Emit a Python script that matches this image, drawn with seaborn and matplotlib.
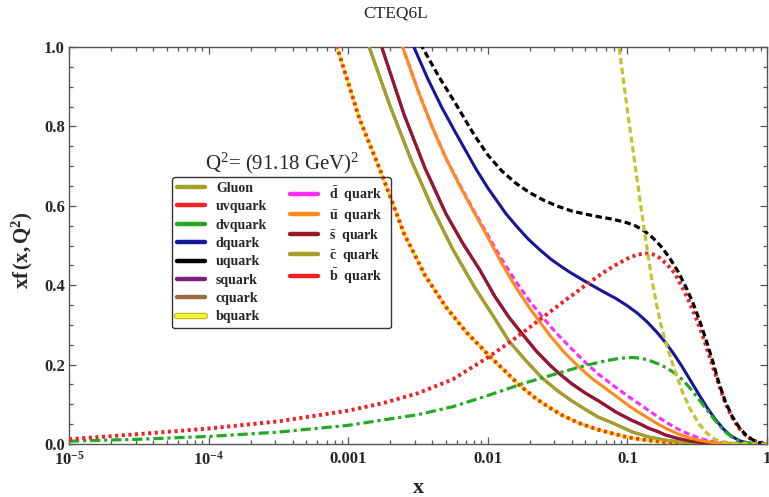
import numpy as np
import pandas as pd
import matplotlib
matplotlib.use("Agg")
import matplotlib.pyplot as plt
import matplotlib.patheffects as pe
from matplotlib.lines import Line2D
from matplotlib.ticker import FixedLocator, FixedFormatter, LogLocator, MultipleLocator, NullFormatter
import seaborn as sns

# ---- parton distributions x f(x, Q^2) at Q^2 = M_Z^2, sampled at log10(x) ----
lgx_u = [-2.60, -2.47, -2.35, -2.23, -2.10, -2.00, -1.90, -1.80, -1.70, -1.60, -1.50, -1.40, -1.30,
         -1.20, -1.10, -1.00, -0.94, -0.88, -0.82, -0.76, -0.70, -0.64, -0.58, -0.53, -0.48, -0.43,
         -0.39, -0.35, -0.30, -0.25, -0.20, -0.15, -0.10, -0.05, 0.0]
xf_u = [1.10, 1.00, 0.925, 0.857, 0.78, 0.728, 0.688, 0.657, 0.633, 0.614, 0.599, 0.587, 0.579,
        0.572, 0.566, 0.557, 0.549, 0.537, 0.52, 0.498, 0.47, 0.436, 0.395, 0.355, 0.308, 0.255,
        0.21, 0.16, 0.108, 0.07, 0.042, 0.022, 0.010, 0.003, 0.0]

lgx_d = [-2.62, -2.53, -2.43, -2.33, -2.24, -2.16, -2.08, -2.00, -1.93, -1.87, -1.79, -1.71, -1.63,
         -1.55, -1.47, -1.40, -1.28, -1.18, -1.08, -1.00, -0.93, -0.86, -0.79, -0.73, -0.67, -0.61,
         -0.55, -0.49, -0.43, -0.37, -0.31, -0.26, -0.20, -0.15, -0.08, 0.0]
xf_d = [1.08, 1.00, 0.92, 0.848, 0.79, 0.74, 0.69, 0.645, 0.61, 0.58, 0.547, 0.516, 0.49,
        0.466, 0.446, 0.43, 0.405, 0.385, 0.366, 0.348, 0.33, 0.308, 0.282, 0.257, 0.228, 0.196,
        0.161, 0.126, 0.092, 0.062, 0.037, 0.021, 0.009, 0.003, 0.0005, 0.0]

lgx_uv = [-5.0, -4.5, -4.0, -3.5, -3.0, -2.75, -2.5, -2.25, -2.0, -1.82, -1.64, -1.46, -1.28, -1.18,
          -1.10, -1.00, -0.93, -0.87, -0.82, -0.77, -0.72, -0.66, -0.60, -0.55, -0.50, -0.45, -0.40,
          -0.35, -0.30, -0.25, -0.20, -0.15, -0.10, -0.05, 0.0]
xf_uv = [0.012, 0.025, 0.039, 0.057, 0.084, 0.103, 0.128, 0.163, 0.218, 0.262, 0.31, 0.358, 0.405, 0.43,
         0.448, 0.467, 0.477, 0.48, 0.478, 0.469, 0.454, 0.43, 0.39, 0.353, 0.31, 0.262, 0.208,
         0.155, 0.104, 0.067, 0.04, 0.021, 0.009, 0.003, 0.0]

lgx_dv = [-5.0, -4.5, -4.0, -3.5, -3.0, -2.5, -2.25, -2.0, -1.75, -1.5, -1.3, -1.15, -1.05, -0.97,
          -0.90, -0.84, -0.78, -0.72, -0.66, -0.60, -0.55, -0.50, -0.45, -0.40, -0.35, -0.30, -0.25,
          -0.20, -0.15, -0.08, 0.0]
xf_dv = [0.007, 0.012, 0.019, 0.030, 0.047, 0.074, 0.094, 0.122, 0.152, 0.178, 0.198, 0.21, 0.216, 0.218,
         0.216, 0.21, 0.202, 0.192, 0.178, 0.16, 0.14, 0.118, 0.095, 0.072, 0.05, 0.031, 0.017,
         0.008, 0.003, 0.0005, 0.0]

lgx_ubar = [-2.70, -2.61, -2.50, -2.40, -2.30, -2.20, -2.10, -1.99, -1.90, -1.80, -1.70, -1.636, -1.55,
            -1.45, -1.35, -1.25, -1.11, -1.00, -0.92, -0.85, -0.78, -0.71, -0.64, -0.56, -0.48, -0.40,
            -0.30, 0.0]
xf_ubar = [1.10, 1.00, 0.89, 0.80, 0.72, 0.65, 0.585, 0.514, 0.455, 0.395, 0.342, 0.312, 0.271,
           0.23, 0.195, 0.164, 0.128, 0.099, 0.08, 0.065, 0.05, 0.037, 0.026, 0.016, 0.009, 0.004,
           0.001, 0.0]

lgx_dbar = [-2.70, -2.61, -2.50, -2.40, -2.30, -2.20, -2.10, -1.99, -1.90, -1.80, -1.70, -1.59, -1.50,
            -1.40, -1.28, -1.20, -1.10, -1.01, -0.92, -0.85, -0.78, -0.71, -0.64, -0.56, -0.48, -0.40,
            -0.30, -0.20, 0.0]
xf_dbar = [1.10, 1.00, 0.89, 0.80, 0.72, 0.652, 0.588, 0.52, 0.465, 0.41, 0.36, 0.312, 0.276,
           0.24, 0.198, 0.174, 0.147, 0.124, 0.102, 0.085, 0.068, 0.052, 0.038, 0.025, 0.014, 0.007,
           0.002, 0.0005, 0.0]

lgx_sbar = [-2.86, -2.76, -2.60, -2.45, -2.30, -2.18, -2.06, -1.95, -1.85, -1.76, -1.65, -1.55, -1.49,
            -1.40, -1.30, -1.20, -1.08, -0.97, -0.90, -0.85, -0.78, -0.73, -0.65, -0.55, -0.45, -0.30, 0.0]
xf_sbar = [1.12, 1.00, 0.83, 0.695, 0.58, 0.506, 0.44, 0.372, 0.32, 0.28, 0.233, 0.197, 0.178,
           0.152, 0.128, 0.107, 0.08, 0.06, 0.049, 0.04, 0.031, 0.023, 0.015, 0.007, 0.003, 0.0005, 0.0]

lgx_cbar = [-2.95, -2.85, -2.70, -2.55, -2.40, -2.25, -2.10, -2.06, -1.95, -1.85, -1.73, -1.61, -1.50,
            -1.40, -1.30, -1.21, -1.10, -0.97, -0.85, -0.70, -0.55, -0.40, 0.0]
xf_cbar = [1.12, 1.00, 0.851, 0.716, 0.596, 0.49, 0.398, 0.376, 0.316, 0.26, 0.211, 0.166, 0.134,
           0.109, 0.087, 0.068, 0.052, 0.031, 0.018, 0.008, 0.003, 0.001, 0.0]

lgx_bbar = [-3.16, -3.08, -2.92, -2.76, -2.60, -2.45, -2.30, -2.15, -2.06, -1.99, -1.88, -1.78, -1.65,
            -1.55, -1.47, -1.35, -1.21, -1.10, -1.00, -0.85, -0.70, -0.50, 0.0]
xf_bbar = [1.10, 1.00, 0.82, 0.68, 0.53, 0.425, 0.345, 0.28, 0.248, 0.222, 0.185, 0.15, 0.113,
           0.09, 0.073, 0.053, 0.036, 0.026, 0.017, 0.009, 0.004, 0.001, 0.0]

lgx_g = [-1.15, -1.10, -1.06, -1.00, -0.94, -0.886, -0.83, -0.79, -0.757, -0.707, -0.66, -0.61,
         -0.55, -0.49, -0.43, -0.37, -0.30, -0.20, 0.0]
xf_g = [1.30, 1.12, 1.00, 0.84, 0.69, 0.555, 0.425, 0.35, 0.295, 0.235, 0.185, 0.135,
        0.088, 0.052, 0.027, 0.011, 0.004, 0.001, 0.0]

x_ticks = [1e-5, 1e-4, 1e-3, 1e-2, 1e-1, 1.0]
x_tick_labels = [r"$\mathbf{10^{-5}}$", r"$\mathbf{10^{-4}}$", "0.001", "0.01", "0.1", "1"]
y_ticks = [0.0, 0.2, 0.4, 0.6, 0.8, 1.0]
y_tick_labels = ["0.0", "0.2", "0.4", "0.6", "0.8", "1.0"]

quark_labels = ["Gluon", "uvquark", "dvquark", "dquark", "uquark", "squark", "cquark", "bquark"]
antiquark_labels = [r"$\bar{\mathbf{d}}$  quark", r"$\bar{\mathbf{u}}$  quark", r"$\bar{\mathbf{s}}$  quark",
                    r"$\bar{\mathbf{c}}$  quark", r"$\bar{\mathbf{b}}$  quark"]

# ---- styling ----
sns.set_theme(style="ticks")
plt.rcParams["font.family"] = ["Liberation Serif", "DejaVu Serif"]
plt.rcParams["mathtext.fontset"] = "custom"
plt.rcParams["mathtext.rm"] = "Liberation Serif"
plt.rcParams["mathtext.it"] = "Liberation Serif:italic"
plt.rcParams["mathtext.bf"] = "Liberation Serif:bold"

fig = plt.figure(figsize=(7.69, 4.97), dpi=100)
ax = fig.add_axes([69 / 769, 53 / 497, 698 / 769, 397 / 497])


def curve(lgx, xf, color, ls, lw, z):
    df = pd.DataFrame({"x": np.power(10.0, lgx), "xf": xf})
    sns.lineplot(data=df, x="x", y="xf", ax=ax, color=color, linestyle=ls, lw=lw,
                 zorder=z, sort=False, estimator=None)


dotted = (0, (0.8, 0.9))
dashed = (0, (2.0, 1.1))
dashdot = (0, (3.2, 1.2, 1.0, 1.2))

# the heavy-flavour quarks coincide with their antiquarks and sit underneath
curve(lgx_sbar, xf_sbar, "#7a1f7a", "-", 2.2, 2)
curve(lgx_cbar, xf_cbar, "#9a6a40", "-", 2.2, 2)
curve(lgx_bbar, xf_bbar, "#e8e820", "-", 2.2, 2)

curve(lgx_bbar, xf_bbar, "#f0341e", dotted, 2.8, 3)
curve(lgx_cbar, xf_cbar, "#a3a02a", "-", 2.2, 3)
curve(lgx_sbar, xf_sbar, "#96182c", "-", 2.2, 3)
curve(lgx_dbar, xf_dbar, "#ff2bff", dashed, 2.2, 3)
curve(lgx_ubar, xf_ubar, "#ff8a1c", "-", 2.2, 3.5)
curve(lgx_d, xf_d, "#16169a", "-", 2.2, 4)
curve(lgx_dv, xf_dv, "#22aa22", dashdot, 2.3, 4.5)
curve(lgx_uv, xf_uv, "#ee2222", dotted, 2.8, 5)
curve(lgx_u, xf_u, "#000000", dashed, 2.3, 5.5)
curve(lgx_g, xf_g, "#c4c22e", dashed, 2.3, 6)

ax.set_xscale("log")
ax.set_xlim(1e-5, 1.0)
ax.set_ylim(0.0, 1.0)

ax.xaxis.set_major_locator(FixedLocator(x_ticks))
ax.xaxis.set_major_formatter(FixedFormatter(x_tick_labels))
ax.xaxis.set_minor_locator(LogLocator(base=10, subs=np.arange(2, 10), numticks=20))
ax.xaxis.set_minor_formatter(NullFormatter())
ax.yaxis.set_major_locator(FixedLocator(y_ticks))
ax.yaxis.set_major_formatter(FixedFormatter(y_tick_labels))
ax.yaxis.set_minor_locator(MultipleLocator(0.05))

ax.tick_params(which="both", direction="in", top=True, right=True, color="#555555", width=0.9)
ax.tick_params(which="major", length=5, labelsize=12, pad=3)
ax.tick_params(axis="x", which="major", pad=5)
ax.tick_params(which="minor", length=3)
for lab in ax.get_xticklabels() + ax.get_yticklabels():
    lab.set_fontweight("bold")
for sp in ax.spines.values():
    sp.set_color("#555555")
    sp.set_linewidth(1.0)

ax.set_xlabel("x", fontsize=16, fontweight="bold")
ax.xaxis.set_label_coords(0.5, (444 - 488) / 397)
ax.xaxis.label.set_verticalalignment("center")
ax.set_ylabel(r"$\mathbf{xf\,(x,Q^2)}$", fontsize=15)
ax.yaxis.set_label_coords((22 - 69) / 698, (444 - 250) / 397)
ax.yaxis.label.set_verticalalignment("center")

fig.text(396 / 769, 1 - 13 / 497, "CTEQ6L", ha="center", va="center", fontsize=12.5)

# ---- legend: framed box with the quarks, antiquarks in a second column ----
quark_colors = ["#a3a02a", "#ee2222", "#22aa22", "#16169a", "#000000", "#7a1f7a", "#9a6a40", "#f4f430"]
antiquark_colors = ["#ff2bff", "#ff8a1c", "#96182c", "#a3a02a", "#ee2222"]
q_handles = [Line2D([0], [0], color=c, lw=3.2) for c in quark_colors]
q_handles[7].set_path_effects([pe.withStroke(linewidth=4.6, foreground="#b0b020")])
a_handles = [Line2D([0], [0], color=c, lw=3.2) for c in antiquark_colors]

leg_prop = {"family": "Liberation Serif", "weight": "bold", "size": 10}
box_x0 = (172 - 69) / 698
box_y0 = (444 - 325) / 397
box_w = (391 - 172) / 698
box_h = (325 - 177) / 397
leg_q = ax.legend(q_handles, quark_labels, loc="upper left", mode="expand",
                  bbox_to_anchor=(box_x0, box_y0, box_w, box_h), borderaxespad=0,
                  prop=leg_prop, handlelength=2.0, handletextpad=0.8, labelspacing=0.385,
                  borderpad=0.36, frameon=True, fancybox=True)
fr = leg_q.get_frame()
fr.set_facecolor("none")
fr.set_edgecolor("#333333")
fr.set_linewidth(1.0)
fr.set_alpha(1)
leg_q.set_zorder(10)
ax.add_artist(leg_q)

leg_a = ax.legend(a_handles, antiquark_labels, loc="upper left",
                  bbox_to_anchor=((287 - 69) / 698, (444 - 182) / 397), borderaxespad=0,
                  prop=leg_prop, handlelength=2.0, handletextpad=0.8, labelspacing=0.2,
                  borderpad=0.2, frameon=False)
leg_a.set_zorder(10)

ax.text((282 - 69) / 698, (444 - 163) / 397, r"Q$^2$= (91.18 GeV)$^2$", transform=ax.transAxes,
        ha="center", va="center", fontsize=15)

fig.savefig("out.png", dpi=100)
